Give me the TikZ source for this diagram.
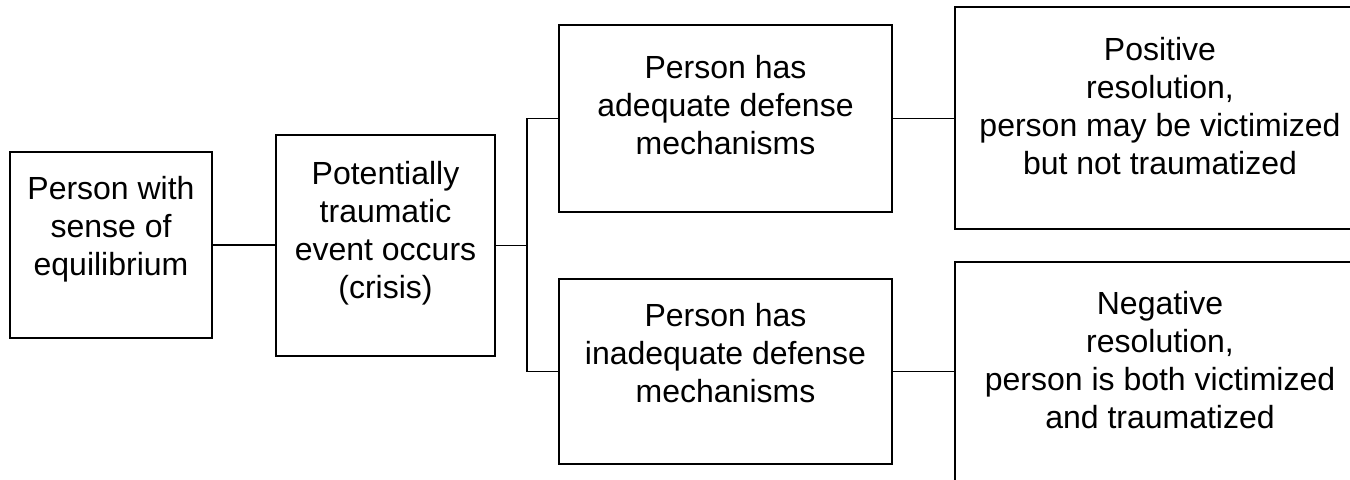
\documentclass[tikz,border=0pt]{standalone}
\usepackage{fontspec}
\setmainfont{Liberation Sans}
\usepackage{tikz}
\tikzset{
	box/.style={draw, line width=0.8pt, inner sep=0pt, outer sep=0pt},
	txt/.style={align=center, inner sep=0pt, font=\fontsize{24}{28.5}\selectfont},
	link/.style={line width=0.8pt}
}

\begin{document}
\begin{tikzpicture}[x=0.75pt, y=-0.75pt]
		%%%%% START %%%%%
		
		\useasboundingbox (0, 0) rectangle (1350, 479);
		\clip (0, 0) rectangle (1350, 479);
		
		\node[box, minimum width=151.5pt, minimum height=139.5pt] (person) at (111, 245) {};
		\node[txt] (personlbl) at ([yshift=12pt]person.center) {Person with\\sense of\\equilibrium};
		
		\node[box, minimum width=164.25pt, minimum height=165.75pt] (crisis) at (385.5, 245.5) {};
		\node[txt] (crisislbl) at ([yshift=9pt]crisis.center) {Potentially\\traumatic\\event occurs\\(crisis)};
		
		\node[box, minimum width=249.75pt, minimum height=140.25pt] (adequate) at (725.5, 118.5) {};
		\node[txt] (adequatelbl) at ([yshift=10pt]adequate.center) {Person has\\adequate defense\\mechanisms};
		
		\node[box, minimum width=249.75pt, minimum height=138.75pt] (inadequate) at (725.5, 371.5) {};
		\node[txt] (inadequatelbl) at ([yshift=14pt]inadequate.center) {Person has\\inadequate defense\\mechanisms};
		
		\node[box, minimum width=307.5pt, minimum height=166.5pt] (positive) at (1160, 118) {};
		\node[txt] (positivelbl) at ([yshift=9pt]positive.center) {Positive\\resolution,\\person may be victimized\\but not traumatized};
		
		\node[box, minimum width=307.5pt, minimum height=166.5pt] (negative) at (1160, 373) {};
		\node[txt] (negativelbl) at ([yshift=10pt]negative.center) {Negative\\resolution,\\person is both victimized\\and traumatized};
		
		\coordinate (split) at (527, 245.5);
		
		\draw[link] (person.east) -- (crisis.west |- person.east);
		\draw[link] (crisis.east) -- (split);
		\draw[link] (adequate.west) -| (split) |- (inadequate.west);
		\draw[link] (adequate.east) -- (positive.west |- adequate.east);
		\draw[link] (inadequate.east) -- (negative.west |- inadequate.east);
		
		%%%%% END %%%%%
	\end{tikzpicture}
\end{document}
